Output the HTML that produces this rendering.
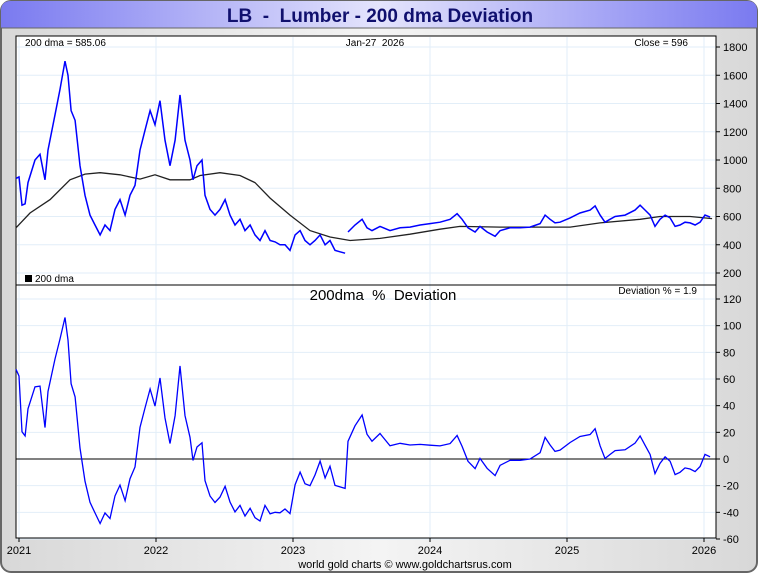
<!DOCTYPE html>
<html><head><meta charset="utf-8"><style>
body{margin:0;width:760px;height:575px;overflow:hidden;background:#fff;font-family:"Liberation Sans",sans-serif}
text{white-space:pre}
</style></head><body>
<svg id="c" width="760" height="575" xmlns="http://www.w3.org/2000/svg">
<defs>
<linearGradient id="bg" x1="0" y1="0" x2="1" y2="0"><stop offset="0" stop-color="#d8d8d8"/><stop offset="0.5" stop-color="#f4f4f4"/><stop offset="1" stop-color="#d8d8d8"/></linearGradient>
<linearGradient id="tb" x1="0" y1="0" x2="1" y2="0"><stop offset="0" stop-color="#7a7af0"/><stop offset="0.5" stop-color="#e4e4fc"/><stop offset="1" stop-color="#7a7af0"/></linearGradient>
</defs>
<rect x="1" y="1" width="756" height="571" rx="10" fill="url(#bg)" stroke="#666" stroke-width="2"/>
<path d="M1,28 L1,11 Q1,1 11,1 L747,1 Q757,1 757,11 L757,28 Z" fill="url(#tb)"/>
<line x1="1" y1="28" x2="757" y2="28" stroke="#666"/>
<text x="380" y="22" text-anchor="middle" font-size="19" font-weight="bold" fill="#10106e" xml:space="preserve">LB  -  Lumber - 200 dma Deviation</text>
<rect x="16" y="36" width="700" height="502" fill="#fff" stroke="#000"/>
<g id="grid"></g>
<line x1="16" y1="285" x2="716" y2="285" stroke="#000"/>
<g id="marks"></g>
<g id="axes" font-size="11" fill="#000"></g>
<text x="25" y="46" font-size="10">200 dma = 585.06</text>
<text x="375" y="46" font-size="10" text-anchor="middle" xml:space="preserve">Jan-27  2026</text>
<text x="688" y="46" font-size="10" text-anchor="end">Close = 596</text>
<rect x="25" y="275" width="7" height="7" fill="#000"/>
<text x="35" y="282" font-size="10">200 dma</text>
<text x="383" y="300" font-size="15" text-anchor="middle" xml:space="preserve">200dma  %  Deviation</text>
<text x="697" y="294" font-size="10" text-anchor="end">Deviation % = 1.9</text>
<text x="405" y="568" font-size="11" text-anchor="middle">world gold charts © www.goldchartsrus.com</text>
</svg>
<script>
const priceMonths=[-0.26,0,0.26,0.53,0.79,1.40,1.84,2.28,2.54,3.15,3.59,4.03,4.29,4.56,4.91,5.34,5.78,6.22,6.66,7.10,7.53,7.97,8.41,8.85,9.29,9.72,10.16,10.60,11.04,11.48,11.91,12.35,12.79,13.23,13.67,14.10,14.54,14.98,15.24,15.59,16.03,16.29,16.73,17.17,17.61,18.05,18.48,18.92,19.36,19.80,20.24,20.67,21.11,21.55,21.99,22.43,22.86,23.30,23.74,24.18,24.62,25.05,25.49,25.93,26.37,26.81,27.24,27.68,28.12,28.56,28.70,28.82,29.43,30.05,30.48,30.92,31.62,32.50,33.38,34.25,35.13,36.00,36.88,37.76,38.37,38.81,39.33,39.95,40.38,41.00,41.70,42.14,43.01,43.89,44.76,45.64,46.08,46.52,46.95,47.39,48.27,49.14,50.02,50.46,50.90,51.33,51.77,52.21,53.09,53.96,54.40,54.84,55.28,55.71,56.15,56.59,57.03,57.47,57.90,58.34,58.78,59.22,59.66,60.09,60.53];
const priceValues=[870,880,680,690,840,1000,1040,860,1070,1320,1500,1700,1600,1350,1280,960,750,610,540,470,540,500,650,720,610,750,820,1070,1210,1350,1250,1420,1140,960,1140,1460,1140,1000,860,960,1000,750,650,610,650,720,610,540,580,500,540,470,430,500,430,420,400,400,360,470,500,430,400,430,470,400,430,360,350,340,null,490,540,580,520,500,530,500,520,525,540,550,560,580,620,580,520,490,530,490,460,500,520,520,525,550,610,580,555,560,590,625,645,675,610,560,580,600,610,645,680,645,610,530,580,610,590,530,540,560,555,540,560,610,596];
const dmaMonths=[-0.26,0.96,2.72,4.47,5.78,7.10,8.85,10.60,11.91,13.23,14.98,15.86,17.61,19.36,20.67,21.99,23.74,25.49,27.24,29.0,31.62,34.25,36.88,38.63,42.14,45.64,48.27,50.90,54.40,56.15,58.78,60.71];
const dmaValues=[520,625,720,860,900,910,895,865,895,860,860,890,910,890,840,730,610,500,455,430,445,475,510,530,525,525,525,555,580,600,600,585];
const yearTicks=[2021,2022,2023,2024,2025,2026];
const priceTicks=[200,400,600,800,1000,1200,1400,1600,1800];
const devTicks=[-60,-40,-20,0,20,40,60,80,100,120];

const NS="http://www.w3.org/2000/svg";
const xM=m=>19+m*137/12;
const xY=y=>19+(y-2021)*137;
const yP=p=>273-(p-200)*226/1600;
const yD=d=>459-d*240/180;
function mk(tag,attrs,parent){const e=document.createElementNS(NS,tag);for(const k in attrs)e.setAttribute(k,attrs[k]);parent.appendChild(e);return e;}
const grid=document.getElementById('grid'),marks=document.getElementById('marks'),axes=document.getElementById('axes');
yearTicks.forEach(y=>{
  const g=mk('line',{x1:xY(y),x2:xY(y),y1:37,y2:537,stroke:'#e2eef8'},grid);
  
  
  const t=mk('line',{x1:xY(y),x2:xY(y),y1:538,y2:542,stroke:'#000'},axes);
  
  
  const l=mk('text',{x:xY(y),y:554,'text-anchor':'middle'},axes);l.textContent=y;
  
  
});
priceTicks.forEach(p=>{
  const g=mk('line',{x1:17,x2:715,y1:yP(p),y2:yP(p),stroke:'#e2eef8'},grid);
  
  
  const t=mk('line',{x1:716,x2:720,y1:yP(p),y2:yP(p),stroke:'#000'},axes);
  
  
  const l=mk('text',{x:723,y:yP(p)+4},axes);l.textContent=p;
  
  
});
devTicks.forEach(d=>{
  if(d!==0){const g=mk('line',{x1:17,x2:715,y1:yD(d),y2:yD(d),stroke:'#e2eef8'},grid);
  
  }
  const t=mk('line',{x1:716,x2:720,y1:yD(d),y2:yD(d),stroke:'#000'},axes);
  
  
  const l=mk('text',{x:723,y:yD(d)+4},axes);l.textContent=d;
  
  
});
const z=mk('line',{x1:16,x2:716,y1:yD(0),y2:yD(0),stroke:'#000'},marks);


function dmaAt(m){for(let i=1;i<dmaMonths.length;i++){if(m<=dmaMonths[i]){const f=(m-dmaMonths[i-1])/(dmaMonths[i]-dmaMonths[i-1]);return dmaValues[i-1]+f*(dmaValues[i]-dmaValues[i-1]);}}return dmaValues[dmaValues.length-1];}
let d='';dmaMonths.forEach((m,i)=>{d+=(i?'L':'M')+xM(m).toFixed(1)+','+yP(dmaValues[i]).toFixed(1);});
const dl=mk('path',{d:d,fill:'none',stroke:'#222',"stroke-width":1.3},marks);


let pd='',pen=false,dv='',dpen=false;
priceMonths.forEach((m,i)=>{const p=priceValues[i];if(p===null){pen=false;return;}
  pd+=(pen?'L':'M')+xM(m).toFixed(1)+','+yP(p).toFixed(1);pen=true;
  const dev=(p/dmaAt(m)-1)*100;dv+=(dpen?'L':'M')+xM(m).toFixed(1)+','+yD(dev).toFixed(1);dpen=true;});
const pl=mk('path',{d:pd,fill:'none',stroke:'#0000ff',"stroke-width":1.5},marks);


const dvl=mk('path',{d:dv,fill:'none',stroke:'#0000ff',"stroke-width":1.3},marks);


</script>
</body></html>
